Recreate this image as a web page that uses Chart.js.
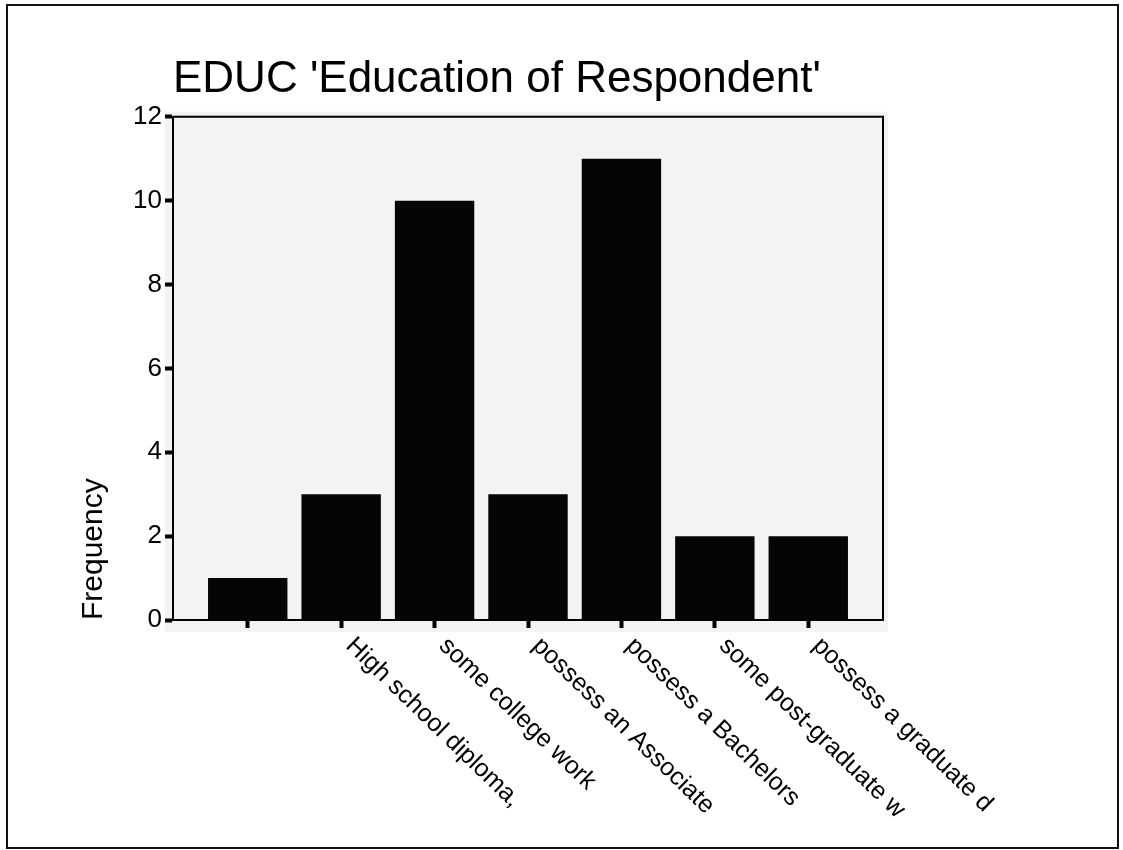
<!DOCTYPE html>
<html>
<head>
<meta charset="utf-8">
<script src="https://cdn.jsdelivr.net/npm/chart.js@4"></script>
<style>
  body { margin: 0; background: #fff; }
  #wrap { width: 1123px; height: 850px; position: relative; }
</style>
</head>
<body>
<div id="wrap"><canvas id="educ"></canvas></div>
<script>
// DATA
const categories = ['', 'High school diploma,', 'some college work', 'possess an Associate', 'possess a Bachelors', 'some post-graduate w', 'possess a graduate d'];
const frequencies = [1, 3, 10, 3, 11, 2, 2];
const yMax = 12;
const yStep = 2;

const FONT = '"Liberation Sans", Arial, sans-serif';

// frame, plot background, box border and the slanted category labels
const decor = {
  id: 'decor',
  beforeDraw(chart) {
    const { ctx, chartArea: a } = chart;
    ctx.save();
    ctx.fillStyle = '#fff';
    ctx.fillRect(0, 0, chart.width, chart.height);
    ctx.fillStyle = '#f3f3f3';
    ctx.fillRect(a.left - 8, a.top - 5, a.right - a.left + 13, a.bottom - a.top + 17);
    ctx.strokeStyle = '#111';
    ctx.lineWidth = 2;
    ctx.strokeRect(7, 5, 1111, 843);
    ctx.restore();
  },
  afterDatasetsDraw(chart) {
    const { ctx, chartArea: a } = chart;
    ctx.save();
    ctx.strokeStyle = '#000';
    ctx.lineWidth = 2;
    ctx.beginPath();
    ctx.moveTo(a.left, a.top);
    ctx.lineTo(a.right, a.top);
    ctx.lineTo(a.right, a.bottom);
    ctx.stroke();
    ctx.restore();
  },
  afterDraw(chart) {
    const { ctx, chartArea: a } = chart;
    const xs = chart.scales.x;
    ctx.save();
    ctx.font = '25px ' + FONT;
    ctx.fillStyle = '#000';
    ctx.textAlign = 'left';
    ctx.textBaseline = 'top';
    categories.forEach((c, i) => {
      if (!c) return;
      ctx.save();
      ctx.translate(xs.getPixelForValue(i) + 17, a.bottom + 13);
      ctx.rotate(44 * Math.PI / 180);
      ctx.fillText(c, 0, 0);
      ctx.restore();
    });
    ctx.restore();
  }
};

new Chart(document.getElementById('educ'), {
  type: 'bar',
  data: {
    datasets: [{
      data: frequencies.map((v, i) => ({ x: i, y: v })),
      backgroundColor: '#050505',
      borderWidth: 0,
      categoryPercentage: 0.85,
      barPercentage: 1
    }]
  },
  options: {
    responsive: true,
    maintainAspectRatio: false,
    animation: false,
    layout: { padding: { left: 62, right: 240, top: 0, bottom: 0 } },
    plugins: {
      legend: { display: false },
      tooltip: { enabled: false },
      title: {
        display: true,
        text: "EDUC 'Education of Respondent'",
        align: 'start',
        fullSize: false,
        color: '#000',
        font: { family: FONT, size: 44, weight: 'normal' },
        padding: { top: 53, bottom: 11 }
      }
    },
    scales: {
      x: {
        type: 'linear',
        offset: false,
        min: -0.8,
        max: categories.length - 0.2,
        afterBuildTicks: s => { s.ticks = categories.map((c, i) => ({ value: i })); },
        afterFit: s => { s.height = 230; },
        grid: { offset: false, drawOnChartArea: false, drawTicks: true, tickLength: 8, tickWidth: 4, tickColor: '#000' },
        border: { display: true, color: '#000', width: 2 },
        ticks: { display: false }
      },
      y: {
        min: 0,
        max: yMax,
        afterFit: s => { s.width = 111; },
        grid: { drawOnChartArea: false, drawTicks: true, tickLength: 8, tickWidth: 4, tickColor: '#000' },
        border: { display: true, color: '#000', width: 2 },
        ticks: { stepSize: yStep, color: '#000', padding: 3, font: { family: FONT, size: 26 } },
        title: {
          display: true,
          text: 'Frequency',
          align: 'start',
          color: '#000',
          font: { family: FONT, size: 30 },
          padding: { top: 14, bottom: 0 }
        }
      }
    }
  },
  plugins: [decor]
});
</script>
</body>
</html>
